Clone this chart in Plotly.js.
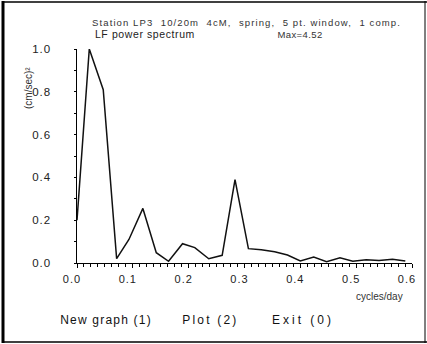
<!DOCTYPE html>
<html>
<head>
<meta charset="utf-8">
<script src="https://cdn.plot.ly/plotly-3.0.1.min.js"></script>
<style>html,body{margin:0;padding:0;background:#fff;}#chart{width:427px;height:344px;}</style>
</head>
<body>
<div id="chart"></div>
<script>
// frequency (cycles/day)
const freq = [0.0, 0.022, 0.047, 0.071, 0.093, 0.118, 0.142, 0.164, 0.189, 0.211, 0.236, 0.260, 0.283, 0.307, 0.330, 0.354, 0.377, 0.400, 0.424, 0.447, 0.471, 0.494, 0.518, 0.541, 0.565, 0.588];
// normalised power
const power = [0.20, 1.00, 0.81, 0.02, 0.11, 0.255, 0.048, 0.008, 0.09, 0.072, 0.02, 0.036, 0.39, 0.067, 0.062, 0.053, 0.037, 0.010, 0.028, 0.006, 0.024, 0.008, 0.015, 0.012, 0.017, 0.009];
const xTickVals = [0, 0.1, 0.2, 0.3, 0.4, 0.5, 0.6];
const xTickText = ["0.0", "0.1", "0.2", "0.3", "0.4", "0.5", "0.6"];
const yTickVals = [0, 0.2, 0.4, 0.6, 0.8, 1.0];
const yTickText = ["0.0", "0.2", "0.4", "0.6", "0.8", "1.0"];
const titleLine1 = "Station LP3  10/20m  4cM,  spring,  5 pt. window,  1 comp.";
const titleLine2 = "LF power spectrum";
const maxText = "Max=4.52";
const xTitle = "cycles/day";
const yTitle = "(cm/sec)²";
const menuItems = ["New graph (1)", "Plot (2)", "Exit (0)"];

const L = 77, R = 412, T = 49, B = 263, W = 427, H = 344;
const px = x => (x - L) / (R - L);
const py = y => (B - y) / (B - T);
const font = "Liberation Sans, Arial, sans-serif";

// [annotation, letter spacing px]; centred so that spacing grows symmetrically
const annSpec = [
  [{text: titleLine1, x: px(246), y: py(22), xanchor: 'center', yanchor: 'middle', font: {size: 9.5, color: '#333'}}, 1.1],
  [{text: titleLine2, x: px(145), y: py(34), xanchor: 'center', yanchor: 'middle', font: {size: 10.5, color: '#222'}}, 0.6],
  [{text: maxText, x: px(300), y: py(34), xanchor: 'center', yanchor: 'middle', font: {size: 9.5, color: '#333'}}, 0.4],
  [{text: xTitle, x: px(405), y: py(296), xanchor: 'right', yanchor: 'middle', font: {size: 10, color: '#333'}}, 0],
  [{text: yTitle, x: px(28), y: py(88), xanchor: 'center', yanchor: 'middle', textangle: -90, font: {size: 10, color: '#333'}}, 0],
  [{text: menuItems[0], x: px(106), y: py(320), xanchor: 'center', yanchor: 'middle', font: {size: 12, color: '#111'}}, 1.2],
  [{text: menuItems[1], x: px(210), y: py(320), xanchor: 'center', yanchor: 'middle', font: {size: 12, color: '#111'}}, 2.2],
  [{text: menuItems[2], x: px(303), y: py(320), xanchor: 'center', yanchor: 'middle', font: {size: 12, color: '#111'}}, 3.0]
];
const ann = annSpec.map(s => Object.assign({xref: 'paper', yref: 'paper', showarrow: false}, s[0]));

const shapes = [
  {type: 'line', x0: px(3), x1: px(3), y0: py(1), y1: py(343), line: {color: '#000', width: 3}},
  {type: 'line', x0: px(2), x1: px(427), y0: py(2), y1: py(2), line: {color: '#000', width: 1.5}},
  {type: 'line', x0: px(2), x1: px(427), y0: py(342), y1: py(342), line: {color: '#000', width: 1.5}},
  {type: 'line', x0: px(425), x1: px(425), y0: py(1), y1: py(343), line: {color: '#000', width: 1}}
].map(s => Object.assign({xref: 'paper', yref: 'paper'}, s));

const data = [{
  x: freq, y: power, type: 'scatter', mode: 'lines',
  line: {color: '#111', width: 1.5}, hoverinfo: 'skip'
}];

const layout = {
  width: W, height: H,
  margin: {l: L, r: W - R, t: T, b: H - B, pad: 0},
  paper_bgcolor: '#fff', plot_bgcolor: '#fff',
  showlegend: false,
  font: {family: font, color: '#222'},
  xaxis: {
    range: [0, 0.6], showgrid: false, zeroline: false,
    showline: true, linecolor: '#000', linewidth: 1,
    tickmode: 'array', tickvals: xTickVals, ticktext: xTickText,
    ticks: 'outside', ticklen: 4, tickcolor: '#000', tickwidth: 1,
    minor: {dtick: 0.0125, ticks: 'outside', ticklen: 3, tickcolor: '#000', tickwidth: 1},
    tickfont: {size: 11, color: '#222'}, ticklabelshift: -5, ticklabelstandoff: 2
  },
  yaxis: {
    range: [0, 1.0], showgrid: false, zeroline: false,
    showline: true, linecolor: '#000', linewidth: 1.5,
    tickmode: 'array', tickvals: yTickVals, ticktext: yTickText,
    ticks: 'outside', ticklen: 2, tickcolor: '#000', tickwidth: 1,
    minor: {dtick: 0.1, ticks: 'outside', ticklen: 2, tickcolor: '#000'},
    tickfont: {size: 11.5, color: '#222'}, ticklabelstandoff: 20
  },
  annotations: ann,
  shapes: shapes
};

Plotly.newPlot('chart', data, layout, {staticPlot: true, displayModeBar: false}).then(gd => {
  const texts = gd.querySelectorAll('.annotation .annotation-text');
  texts.forEach((t, i) => {
    if (annSpec[i] && annSpec[i][1]) t.style.letterSpacing = annSpec[i][1] + 'px';
  });
  gd.querySelectorAll('.xtick text, .ytick text').forEach(t => { t.style.letterSpacing = '1px'; });
});
</script>
</body>
</html>
